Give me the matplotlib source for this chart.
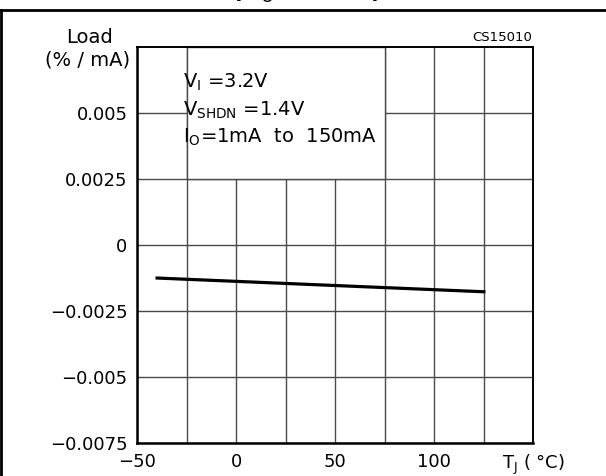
import numpy as np
import matplotlib
matplotlib.use("Agg")
import matplotlib.pyplot as plt
from matplotlib.patches import Rectangle
from matplotlib.lines import Line2D

# data
temp_c = [-40, 125]
load_reg = [-0.00124, -0.00176]

x_major = [-50, 0, 50, 100, 150]
x_labels = ["\u221250", "0", "50", "100", "T$_\\mathrm{J}$ ( °C)"]
x_minor = [-25, 25, 75, 125]
y_ticks = [-0.0075, -0.005, -0.0025, 0, 0.0025, 0.005]
y_labels = ["\u22120.0075", "\u22120.005", "\u22120.0025", "0", "0.0025", "0.005"]

cond_lines = ["V$_\\mathrm{I}$ =3.2V",
              "V$_\\mathrm{SHDN}$ =1.4V",
              "I$_\\mathrm{O}$=1mA  to  150mA"]

plt.rcParams['font.family'] = ['DejaVu Sans']
plt.rcParams['mathtext.default'] = 'regular'

fig = plt.figure(figsize=(6.06, 4.76), dpi=100)
ax = fig.add_axes([137.3/606, 1 - 443.3/476, 396/606, 396/476])

grid_col = '#4a4a4a'
ax.set_xlim(-50, 150)
ax.set_ylim(-0.0075, 0.0075)
ax.set_xticks(x_major)
ax.set_xticklabels(x_labels)
ax.set_xticks(x_minor, minor=True)
ax.set_yticks(y_ticks)
ax.set_yticklabels(y_labels)
ax.tick_params(axis='both', which='both', length=0, labelsize=13)
ax.tick_params(axis='y', pad=7)
ax.tick_params(axis='x', pad=7)
ax.set_axisbelow(True)
ax.grid(True, which='both', color=grid_col, linewidth=1)

# white box holding the test conditions
ax.add_patch(Rectangle((-25, 0.0025), 100, 0.005, facecolor='white',
                       edgecolor=grid_col, linewidth=1, zorder=1))
for i, s in enumerate(cond_lines):
    ax.text(0.115, 0.912 - i * 0.07, s, transform=ax.transAxes,
            fontsize=14, va='center', ha='left', zorder=3)

ax.plot(temp_c, load_reg, color='black', linewidth=2.3, zorder=4)

for side in ['left', 'bottom']:
    ax.spines[side].set_linewidth(1.8)
for side in ['top', 'right']:
    ax.spines[side].set_linewidth(1.4)

fig.text(89/606, 1 - 37.5/476, "Load", fontsize=14, ha='center', va='center')
fig.text(88/606, 1 - 60/476, "(% / mA)", fontsize=14, ha='center', va='center')
fig.text(532/606, 1 - 37.3/476, "CS15010", fontsize=9.5, ha='right', va='center')

# title is cut off at the top of the image, only its lowest pixels show
fig.text(306/606, 1 + 1/476, "(V$_\\mathrm{O}$ = 1.5V)", fontsize=17,
         fontweight='bold', ha='center', va='baseline')

# outer frame
fig.add_artist(Line2D([0, 1], [1 - 10.2/476, 1 - 10.2/476], color='black',
                      linewidth=2, transform=fig.transFigure))
fig.add_artist(Line2D([1/606, 1/606], [0, 1 - 10.2/476], color='black',
                      linewidth=2, transform=fig.transFigure))

fig.savefig("out.png", dpi=100)
